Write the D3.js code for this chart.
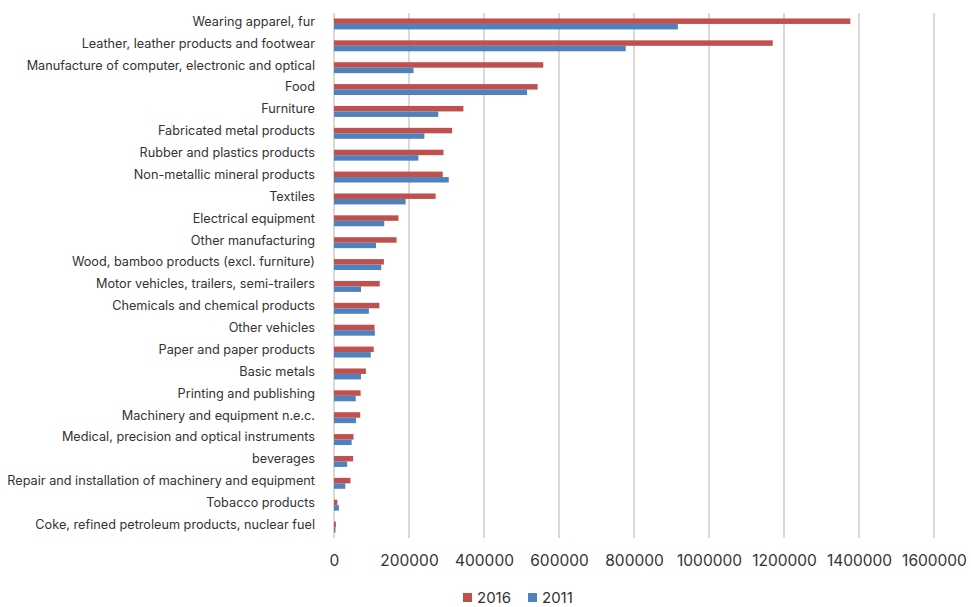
<!DOCTYPE html>
<html>
<head>
<meta charset="utf-8">
<script src="https://cdn.jsdelivr.net/npm/d3@7"></script>
<style>
  body { margin: 0; background: #fff; }
  svg { display: block; font-family: Inter, Roboto, "Noto Sans", sans-serif; }
</style>
</head>
<body>
<svg id="chart" width="971" height="607"></svg>
<script>
const categories = [
  "Wearing apparel, fur",
  "Leather, leather products and footwear",
  "Manufacture of computer, electronic and optical",
  "Food",
  "Furniture",
  "Fabricated metal products",
  "Rubber and plastics products",
  "Non-metallic mineral products",
  "Textiles",
  "Electrical equipment",
  "Other manufacturing",
  "Wood, bamboo products (excl. furniture)",
  "Motor vehicles, trailers, semi-trailers",
  "Chemicals and chemical products",
  "Other vehicles",
  "Paper and paper products",
  "Basic metals",
  "Printing and publishing",
  "Machinery and equipment n.e.c.",
  "Medical, precision and optical instruments",
  "beverages",
  "Repair and installation of machinery and equipment",
  "Tobacco products",
  "Coke, refined petroleum products, nuclear fuel"
];
const values2016 = [1377000, 1170000, 558000, 543000, 345000, 315000, 292000, 290000, 271000, 172000, 167000, 133000, 122000, 121000, 108000, 106000, 85000, 71000, 70000, 52000, 51000, 44000, 9000, 5000];
const values2011 = [917000, 778000, 212000, 515000, 278000, 241000, 225000, 306000, 191000, 134000, 112000, 126000, 72000, 93000, 109000, 98000, 72000, 58000, 59000, 47000, 35000, 30000, 13000, 4000];
const seriesNames = ["2016", "2011"];
const seriesColors = ["#C0504D", "#4F81BD"];
const xTicks = [0, 200000, 400000, 600000, 800000, 1000000, 1200000, 1400000, 1600000];

(function () {
const svg = d3.select("#chart");
const mLeft = 334, mRight = 934, mTop = 13, mBottom = 538;

const x = d3.scaleLinear().domain([0, 1600000]).range([mLeft, mRight]);
const y = d3.scaleBand().domain(categories).range([mTop, mBottom]).paddingInner(0.5).paddingOuter(0.25);
const ySub = d3.scaleBand().domain(seriesNames).range([0, y.bandwidth()]);

// gridlines
svg.append("g").selectAll("line").data(xTicks).join("line")
  .attr("x1", d => x(d)).attr("x2", d => x(d))
  .attr("y1", mTop).attr("y2", mBottom)
  .attr("stroke", "#d9d9d9").attr("stroke-width", 2);

// bars
const data = categories.map((c, i) => ({ cat: c, vals: [values2016[i], values2011[i]] }));
const groups = svg.append("g").selectAll("g").data(data).join("g")
  .attr("transform", d => `translate(0,${y(d.cat)})`);
groups.selectAll("rect").data(d => d.vals.map((v, j) => ({ v, s: seriesNames[j], c: seriesColors[j] })))
  .join("rect")
  .attr("x", x(0))
  .attr("y", d => ySub(d.s))
  .attr("width", d => x(d.v) - x(0))
  .attr("height", ySub.bandwidth())
  .attr("fill", d => d.c);

// y axis labels
const yAxis = d3.axisLeft(y).tickSize(0).tickPadding(19);
const yg = svg.append("g").attr("transform", `translate(${mLeft},0)`).call(yAxis);
yg.select(".domain").remove();
yg.selectAll("text").attr("font-size", 12.7).attr("fill", "#333").attr("font-family", "Inter, Roboto, sans-serif").attr("dy", "0.15em");

// x axis labels
const xAxis = d3.axisBottom(x).tickValues(xTicks).tickSize(0).tickPadding(17).tickFormat(d3.format("d"));
const xg = svg.append("g").attr("transform", `translate(0,${mBottom})`).call(xAxis);
xg.select(".domain").remove();
xg.selectAll("text").attr("font-size", 15.5).attr("fill", "#333").attr("font-family", "Inter, Roboto, sans-serif");

// legend
const legend = svg.append("g").attr("transform", "translate(463,592)");
const items = legend.selectAll("g").data(seriesNames).join("g")
  .attr("transform", (d, i) => `translate(${i * 65},0)`);
items.append("rect").attr("width", 9).attr("height", 9).attr("y", 1).attr("fill", (d, i) => seriesColors[i]);
items.append("text").attr("x", 14).attr("y", 11).attr("font-size", 15).attr("fill", "#333").text(d => d);
})();
</script>
</body>
</html>
